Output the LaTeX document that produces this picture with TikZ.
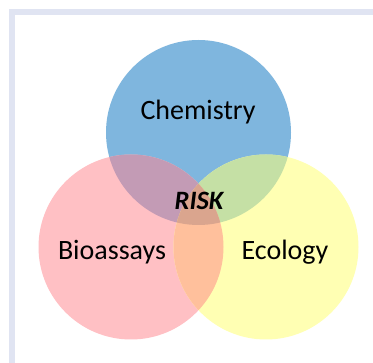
\documentclass[tikz,border=0pt]{standalone}
\usepackage{fontspec}
\setmainfont{Carlito}
\definecolor{framegray}{HTML}{E0E4F2}
\definecolor{chemblue}{HTML}{7FB6DE}
\definecolor{biopink}{HTML}{FFC0C4}
\definecolor{ecoyellow}{HTML}{FFFFB3}
\definecolor{mixpurple}{HTML}{C39BB5}
\definecolor{mixgreen}{HTML}{C5E0A5}
\definecolor{mixorange}{HTML}{FFC09C}
\definecolor{mixcentre}{HTML}{DAA58E}
\begin{document}
\begin{tikzpicture}[x=1pt, y=-1pt,
	field/.style={font=\fontsize{28}{30}\selectfont, anchor=base, inner sep=0pt}]
	\useasboundingbox (0,0) rectangle (373,363);
	% frame
	\fill[framegray] (9,9) rectangle (373,363);
	\fill[white] (15,15) rectangle (373,363);
	% circles
	\coordinate (chem) at (198.5,132.5);
	\coordinate (bio) at (131,247);
	\coordinate (eco) at (266,247);
	\fill[chemblue] (chem) circle[radius=92.5pt];
	\fill[biopink] (bio) circle[radius=92.5pt];
	\fill[ecoyellow] (eco) circle[radius=92.5pt];
	% overlaps
	\begin{scope}
		\clip (chem) circle[radius=92.5pt];
		\fill[mixpurple] (bio) circle[radius=92.5pt];
		\fill[mixgreen] (eco) circle[radius=92.5pt];
	\end{scope}
	\begin{scope}
		\clip (bio) circle[radius=92.5pt];
		\fill[mixorange] (eco) circle[radius=92.5pt];
		\clip (eco) circle[radius=92.5pt];
		\fill[mixcentre] (chem) circle[radius=92.5pt];
	\end{scope}
	% labels
	\node[field] (chemistry) at (198,120) {Chemistry};
	\node[field] (bioassays) at (112,260) {Bioassays};
	\node[field] (ecology) at (285,260) {Ecology};
	\node[field, font=\fontsize{26.5}{28}\selectfont\bfseries\itshape] (risk) at (199,210) {RISK};
\end{tikzpicture}
\end{document}
